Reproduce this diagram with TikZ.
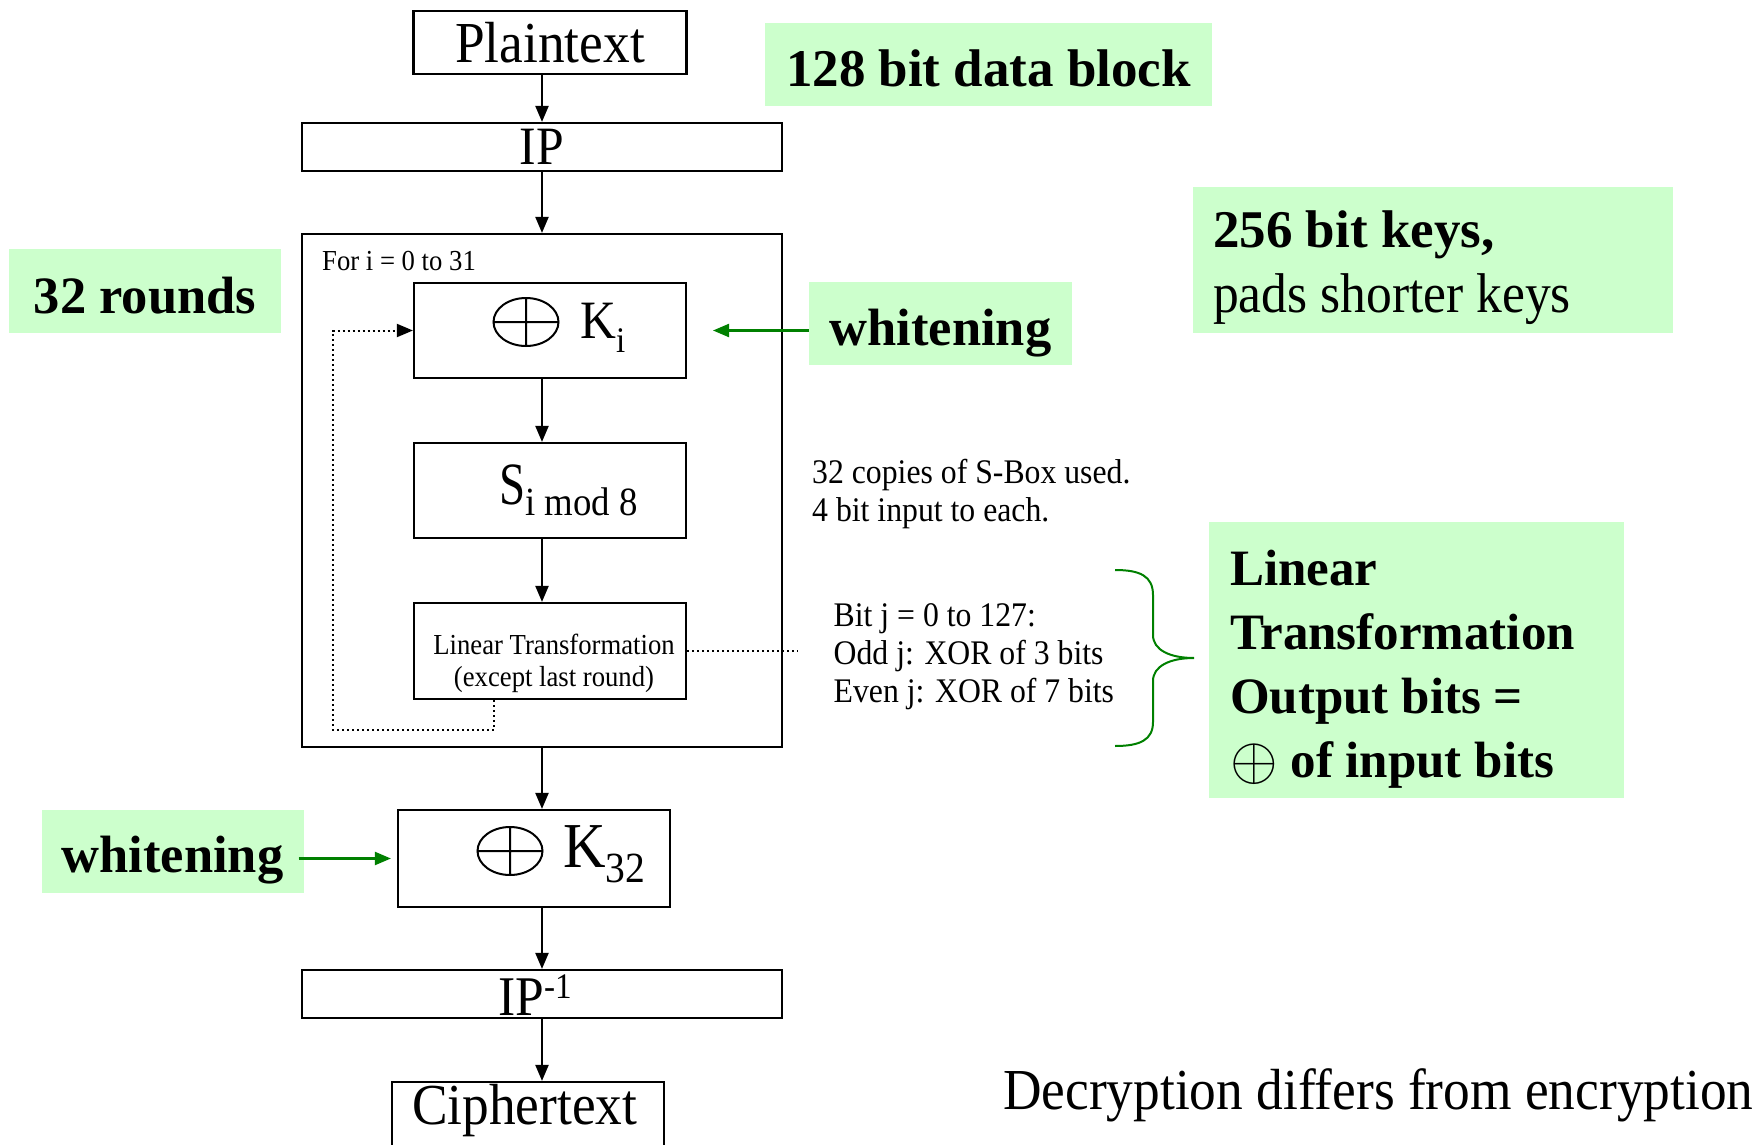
\documentclass[tikz,border=0pt]{standalone}
\usepackage{fix-cm}
\usepackage{graphicx}
\usepackage{fontspec}
\setmainfont{Liberation Serif}
\newfontfamily\narrow{Liberation Serif}[FakeStretch=0.92]
\usetikzlibrary{arrows.meta,positioning}

\definecolor{notegreen}{HTML}{CCFFCC}
\definecolor{arrowgreen}{HTML}{008000}

\newcommand{\fsz}[1]{\fontsize{#1}{#1}\selectfont}
\newcommand{\lowtext}[3]{\raisebox{-#1pt}{\fsz{#2}#3}}

\tikzset{
  blk/.style={draw, line width=2.2pt, inner sep=0pt},
  note/.style={fill=notegreen, inner sep=0pt, text depth=0pt, font=\bfseries\fsz{52.5}},
  lbl/.style={inner sep=0pt, anchor=base west},
  arr/.style={line width=2.2pt, -{Triangle[length=16pt,width=13pt]}},
  garr/.style={arr, draw=arrowgreen, fill=arrowgreen},
  dots/.style={line width=2pt, dash pattern=on 2pt off 3pt},
}

\begin{document}
\begin{tikzpicture}[x=1pt,y=-1pt]
	\useasboundingbox (0,0) rectangle (1762,1145);

	% main column
	\node[blk, minimum width=273pt, minimum height=63pt, font=\narrow\fsz{58}] (plain) at (550,42.5) {Plaintext};
	\node[blk, minimum width=480pt, minimum height=48pt, font=\narrow\fsz{54}] (ip) at (542,147) {IP};
	\node[blk, minimum width=480pt, minimum height=513pt] (loop) at (542,490.5) {};
	\node[lbl, font=\narrow\fsz{29}] (fori) at (322,270) {For i = 0 to 31};

	\node[blk, minimum width=272pt, minimum height=95pt] (ki) at (550,330.5) {};
	\node[lbl, font=\narrow\fsz{54}] (kitext) at (580,338) {K\lowtext{14}{36}{i}};
	\node[blk, minimum width=272pt, minimum height=95pt] (sbox) at (550,490.5) {};
	\node[lbl, font=\narrow\fsz{60}] (stext) at (499,504) {\scalebox{0.85}[1]{S}\lowtext{11}{40}{i mod 8}};
	\node[blk, minimum width=272pt, minimum height=96pt] (lt) at (550,651) {};
	\node[inner sep=0pt, anchor=north, align=center, font=\narrow\fontsize{29}{32}\selectfont] (lttext) at (554,634) {Linear Transformation\\(except last round)};

	\node[blk, minimum width=272pt, minimum height=97pt] (k32) at (534,858.5) {};
	\node[lbl, font=\narrow\fsz{64}] (k32text) at (563,867) {K\lowtext{15}{43}{32}};
	\node[blk, minimum width=480pt, minimum height=48pt] (ipinv) at (542,994) {};
	\node[lbl, font=\narrow\fsz{56}] (ipinvtext) at (498,1015) {IP\raisebox{17pt}{\fsz{36}-1}};
	\node[blk, minimum width=272pt, minimum height=80pt] (cipher) at (528,1122) {};
	\node[lbl, font=\narrow\fsz{58}] (ciphertext) at (412,1124) {Ciphertext};

	% xor signs
	\coordinate (xi) at (526,322);
	\coordinate (x32) at (510,851);
	\foreach \c in {xi,x32}
		\draw[line width=2pt] (\c) ellipse [x radius=32.5, y radius=24]
			(\c) +(-32.5,0) -- +(32.5,0) (\c) +(0,-24) -- +(0,24);

	\draw[arr] (plain.south -| ip.north) -- (ip.north);
	\draw[arr] (ip.south) -- (loop.north);
	\draw[arr] (ki.south -| loop.north) -- (sbox.north -| loop.north);
	\draw[arr] (sbox.south -| loop.north) -- (lt.north -| loop.north);
	\draw[arr] (loop.south) -- (k32.north -| loop.south);
	\draw[arr] (k32.south -| loop.south) -- (ipinv.north);
	\draw[arr] (ipinv.south) -- (cipher.north -| ipinv.south);

	% round loop
	\coordinate (back) at (333,730);
	\draw[dots, -{Triangle[length=16pt,width=13pt]}] ([xshift=-56pt]lt.south) |- (back) |- (ki.west);
	\coordinate (ltend) at (798,651);
	\draw[dots] (lt.east) -- (ltend);

	% notes
	\node[note, minimum width=447pt, minimum height=83pt, text height=44pt, font=\bfseries\fsz{53}] (blocknote) at (988.5,64.5) {128 bit data block};
	\node[note, minimum width=480pt, minimum height=146pt] (keynote) at (1433,260) {};
	\node[inner sep=0pt, anchor=north west, align=left, font=\fontsize{53}{65}\selectfont] (keytext) at (1213,211)
		{\textbf{256 bit keys,}\\{\narrow\fontsize{56}{65}\selectfont pads shorter keys}};
	\node[note, minimum width=272pt, minimum height=84pt, text height=45pt] (roundsnote) at (145,291) {32 rounds};
	\node[note, minimum width=263pt, minimum height=83pt, text height=43pt] (whtop) at (940.5,323.5) {whitening};
	\node[note, minimum width=262pt, minimum height=83pt, text height=42pt] (whbot) at (172.5,851.5) {whitening};
	\node[note, minimum width=415pt, minimum height=276pt] (linnote) at (1416.5,660) {};
	\node[inner sep=0pt, anchor=north west, align=left, font=\bfseries\fontsize{51}{64.3}\selectfont] (lintext) at (1230,549.5)
		{Linear\\Transformation\\Output bits =\\\raisebox{-2pt}{\scalebox{1.2}{$\oplus$}} of input bits};

	\coordinate (whtip) at (713,330.5);
	\draw[garr] (whtop.west |- ki.east) -- (whtip);
	\draw[garr] ([xshift=-5pt]whbot.east |- k32.west) -- ([xshift=-6pt]k32.west);

	\node[inner sep=0pt, anchor=north west, align=left, font=\narrow\fontsize{34.5}{38}\selectfont] (sboxnote) at (812,459.5)
		{32 copies of S-Box used.\\4 bit input to each.};
	\node[inner sep=0pt, anchor=north west, align=left, font=\narrow\fontsize{34.5}{38}\selectfont] (bitnote) at (833.5,603.5)
		{Bit j = 0 to 127:\\Odd j: XOR of 3 bits\\Even j: XOR of 7 bits};

	% brace
	\draw[arrowgreen, line width=2pt] (1115,570) .. controls (1140,570) and (1153,576) .. (1153,595) -- (1153,635)
		.. controls (1153,650) and (1170,658) .. (1194,658) .. controls (1170,658) and (1153,666) .. (1153,681)
		-- (1153,722) .. controls (1153,740) and (1140,746) .. (1115,746);

	\node[lbl, font=\narrow\fsz{58}] (decnote) at (1003,1109) {Decryption differs from encryption};
\end{tikzpicture}
\end{document}
